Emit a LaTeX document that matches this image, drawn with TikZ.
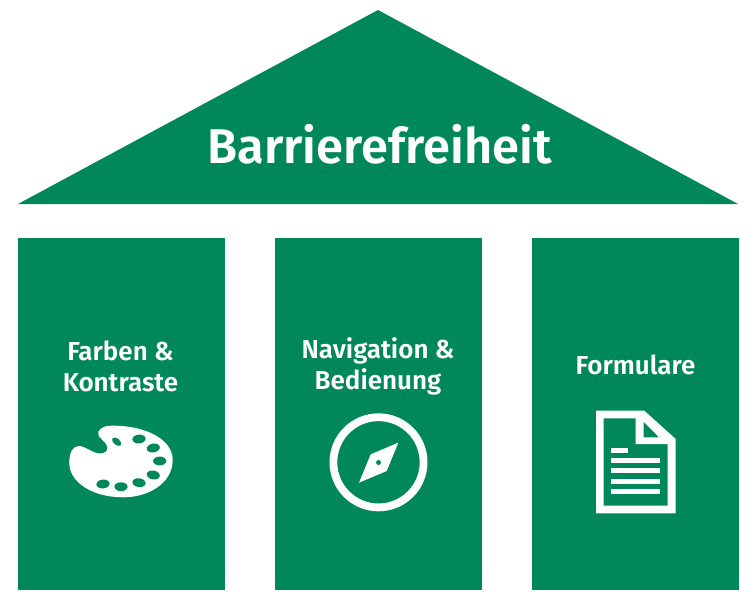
\documentclass[tikz,border=0pt]{standalone}
\usepackage{fontspec}
\setmainfont{Fira Sans}[BoldFont={Fira Sans SemiBold}]
\definecolor{gruen}{RGB}{0,135,90}
\tikzset{
  pillar/.style={fill=gruen,draw=none,inner sep=0pt,minimum width=207pt,minimum height=352pt,anchor=north west},
  pillartext/.style={text=white,font=\fontsize{26}{31}\selectfont\bfseries,align=center,inner sep=0pt},
  icon/.style={fill=white,draw=none},
  hole/.style={fill=gruen,draw=none}
}
\begin{document}
\begin{tikzpicture}[x=1pt,y=-1pt]
\useasboundingbox (0,0) rectangle (756,613);
\fill[white] (0,0) rectangle (756,613);
% roof
\fill[gruen] (378,10) -- (738,204) -- (18,204) -- cycle;
\node[text=white,font=\fontsize{48.8}{50}\selectfont\bfseries,inner sep=0pt] (titel) at (379.5,144) {Barrierefreiheit};
% pillars
\node[pillar] (p1) at (18,238) {};
\node[pillar] (p2) at (275,238) {};
\node[pillar] (p3) at (532,238) {};
\node[pillartext] (t1) at (120.5,366) {Farben \&\\Kontraste};
\node[pillartext] (t2) at (378,366.5) {Navigation \&\\Bedienung};
\node[pillartext] (t3) at (635.5,365) {Formulare};
% palette
\fill[icon] (98.3,431.7) .. controls (101,427) and (106,425.5) .. (112,425.7)
  .. controls (147,425.5) and (172.7,440) .. (172.7,460)
  .. controls (172.7,482) and (150,497.3) .. (123.3,497.3)
  .. controls (92,497.3) and (69.3,482) .. (69.3,463)
  .. controls (69.3,452) and (73,446) .. (79,446)
  .. controls (85,446) and (93,453.5) .. (100,453.5)
  .. controls (105,453.5) and (108,451) .. (107.3,447.3)
  .. controls (106.5,441) and (96,437) .. (98.3,431.7) -- cycle;
\fill[hole,rotate around={-40:(116.7,441.7)}] (116.7,441.7) ellipse (5.4 and 3.2);
\foreach \px/\py/\pa in {139/439/5,153.3/448/10,159.7/461/0,153.3/475/-10,139/482.7/-8,121/486.7/0,103/484/5}
  \fill[hole,rotate around={\pa:(\px,\py)}] (\px,\py) ellipse (6.6 and 4.4);
% compass
\fill[icon,even odd rule] (378.5,462.3) circle (49) (378.5,462.3) circle (41.2);
\fill[icon] (398.3,442.7) -- (386.7,471) -- (359,482.7) -- (370.7,454.3) -- cycle;
\fill[hole] (378.5,462.5) circle (2.5);
% document
\fill[icon,even odd rule] (596,410.7) -- (644.3,410.7) -- (675.7,439) -- (675.7,513.3) -- (596,513.3) -- cycle
  (603.7,418.3) -- (635.7,418.3) -- (635.7,444) -- (667.7,444) -- (667.7,505.7) -- (603.7,505.7) -- cycle
  (643.7,421.7) -- (643.7,437.3) -- (659,437.3) -- cycle;
\fill[icon] (611.3,447.7) rectangle (628.3,452.7);
\fill[icon] (611.3,458) rectangle (660.3,463.3);
\fill[icon] (611.3,468.3) rectangle (660.3,473.3);
\fill[icon] (611.3,478.7) rectangle (660.3,484);
\fill[icon] (611.3,489) rectangle (660.3,494);
\end{tikzpicture}
\end{document}
